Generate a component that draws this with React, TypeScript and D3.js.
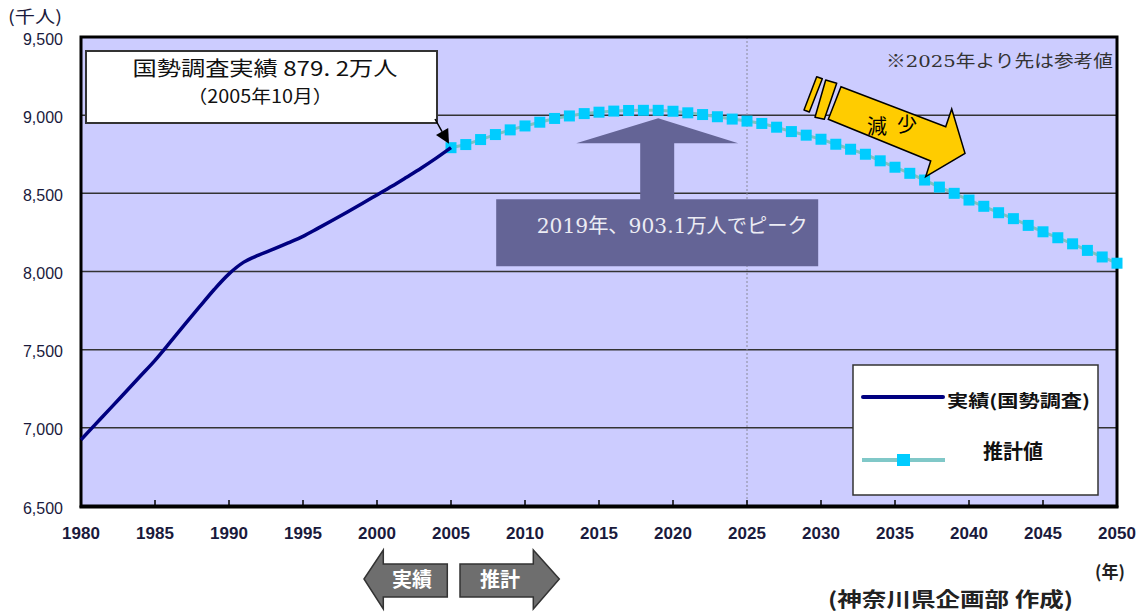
import React from "react";
import * as d3 from "d3";

// ---- data ----
const actualYears = [1980,1981,1982,1983,1984,1985,1986,1987,1988,1989,1990,1991,1992,1993,1994,1995,1996,1997,1998,1999,2000,2001,2002,2003,2004,2005];
const actualValues = [6924,7025,7126,7228,7330,7432,7545,7660,7773,7885,7985,8060,8105,8143,8183,8225,8276,8328,8381,8435,8490,8545,8603,8662,8725,8792];

const projYears = [2005,2006,2007,2008,2009,2010,2011,2012,2013,2014,2015,2016,2017,2018,2019,2020,2021,2022,2023,2024,2025,2026,2027,2028,2029,2030,2031,2032,2033,2034,2035,2036,2037,2038,2039,2040,2041,2042,2043,2044,2045,2046,2047,2048,2049,2050];
const projValues = [8792,8812,8844,8876,8906,8931,8955,8979,8995,9010,9019,9026,9030,9031,9031,9025,9015,9004,8990,8975,8962,8947,8923,8895,8872,8846,8814,8782,8750,8708,8667,8628,8585,8540,8500,8457,8417,8376,8338,8295,8254,8216,8177,8135,8093,8053];

const yTicks = [6500,7000,7500,8000,8500,9000,9500];
const xTicks = [1980,1985,1990,1995,2000,2005,2010,2015,2020,2025,2030,2035,2040,2045,2050];
const peakYear = 2019;
const peakValue = 9031;
const referenceYear = 2025;

const SANS = "'Liberation Sans', Arial, 'Noto Sans CJK JP', sans-serif";
const CJK = "'Noto Sans CJK JP', 'Noto Sans', sans-serif";
const SERIF = "'DejaVu Serif', 'Liberation Serif', 'Noto Sans CJK JP', serif";

export default function App() {
  const W = 1147, H = 612;
  const x = d3.scaleLinear().domain([1980, 2050]).range([81, 1117]);
  const y = d3.scaleLinear().domain([6500, 9500]).range([506, 37]);

  const actual = actualYears.map((yr, i) => [yr, actualValues[i]] as [number, number]);
  const proj = projYears.map((yr, i) => [yr, projValues[i]] as [number, number]);

  const lineGen = d3.line<[number, number]>()
    .x(d => x(d[0]))
    .y(d => y(d[1]))
    .curve(d3.curveMonotoneX);
  const projLine = d3.line<[number, number]>()
    .x(d => x(d[0]))
    .y(d => y(d[1]));

  const x0 = x.range()[0], x1 = x.range()[1];
  const yTop = y.range()[1], yBot = y.range()[0];

  // peak arrow geometry relative to peak point
  const tx = x(peakYear);
  const ty = y(peakValue) + 8;
  const peakArrow = [
    [tx, ty], [tx + 80, ty + 25], [tx + 16, ty + 25], [tx + 16, ty + 81],
    [tx + 160, ty + 81], [tx + 160, ty + 148], [tx - 162, ty + 148], [tx - 162, ty + 81],
    [tx - 18, ty + 81], [tx - 18, ty + 25], [tx - 82, ty + 25],
  ].map(p => p.join(",")).join(" ");

  // annotation arrow head
  const a0 = [435, 119], a1 = [x(2005) - 2, y(8792) - 4];
  const dx = a1[0] - a0[0], dy = a1[1] - a0[1];
  const len = Math.hypot(dx, dy);
  const ux = dx / len, uy = dy / len;
  const bx = a1[0] - 14 * ux, by = a1[1] - 14 * uy;
  const head = [[a1[0], a1[1]], [bx - 7 * uy, by + 7 * ux], [bx + 7 * uy, by - 7 * ux]]
    .map(p => p.join(",")).join(" ");

  const labelColor = "#1a1a3c";

  return (
    <svg width={W} height={H} style={{ position: "absolute", left: 0, top: 0, background: "#fff" }}>
      {/* plot background */}
      <rect x={x0} y={yTop} width={x1 - x0} height={yBot - yTop} fill="#CCCCFF" />
      {/* gridlines */}
      {yTicks.slice(1, -1).map(t => (
        <line key={t} x1={x0} x2={x1} y1={y(t)} y2={y(t)} stroke="#333" strokeWidth={1.5} />
      ))}
      {/* 2025 dotted line */}
      <line x1={x(referenceYear)} x2={x(referenceYear)} y1={yTop} y2={yBot} stroke="#8a8a9a" strokeWidth={1} strokeDasharray="2,2" />

      {/* ticks */}
      {xTicks.slice(1, -1).map(t => (
        <line key={t} x1={x(t)} x2={x(t)} y1={yBot} y2={yBot - 6} stroke="#000" strokeWidth={1.5} />
      ))}

      {/* plot border */}
      <rect x={x0} y={yTop} width={x1 - x0} height={yBot - yTop} fill="none" stroke="#000" strokeWidth={3} />
      <line x1={x0 - 1.5} x2={x1 + 1.5} y1={yBot + 1} y2={yBot + 1} stroke="#000" strokeWidth={3} />

      {/* peak arrow */}
      <polygon points={peakArrow} fill="#646496" />
      <text x={tx + 14} y={ty + 115} textAnchor="middle" fontFamily={SERIF} fontSize={20} fill="#ececf4"
        textLength={271} lengthAdjust="spacingAndGlyphs">2019年、903.1万人でピーク</text>

      {/* projection series */}
      <path d={projLine(proj) || ""} fill="none" stroke="#80C0C0" strokeWidth={3} />
      {proj.map(d => (
        <rect key={d[0]} x={x(d[0]) - 5.5} y={y(d[1]) - 5.5} width={11} height={11} fill="#00CCFF" />
      ))}

      {/* actual series */}
      <path d={lineGen(actual) || ""} fill="none" stroke="#000080" strokeWidth={3.5} strokeLinejoin="round" />

      {/* yellow decreasing arrow */}
      <polygon points="816.7,76.7 822.3,78.7 809.3,112 804,110" fill="#FFCC00" stroke="#000" strokeWidth={1.5} strokeLinejoin="round" />
      <polygon points="825.7,80 836.7,83.3 824.3,119.3 815,117.3" fill="#FFCC00" stroke="#000" strokeWidth={1.5} strokeLinejoin="round" />
      <polygon points="841,86.7 945.7,126.7 951.7,109 965,153.3 925.7,176.7 930.7,161 828.3,119.3" fill="#FFCC00" stroke="#000" strokeWidth={1.5} strokeLinejoin="miter" />
      <text x={877} y={127} dy="0.35em" textAnchor="middle" fontFamily={CJK} fontSize={20} fill="#000">減</text>
      <text x={907} y={125} dy="0.35em" textAnchor="middle" fontFamily={CJK} fontSize={20} fill="#000">少</text>

      {/* note */}
      <text x={886} y={67} fontFamily={SERIF} fontSize={17} fill="#333" textLength={227} lengthAdjust="spacingAndGlyphs">※2025年より先は参考値</text>

      {/* annotation box */}
      <rect x={86} y={51} width={351} height={72} fill="#fff" stroke="#333" strokeWidth={2} />
      <text x={265} y={76} textAnchor="middle" fontFamily={CJK} fontSize={20} fill="#111" textLength={265} lengthAdjust="spacingAndGlyphs">国勢調査実績 879. 2万人</text>
      <text x={260} y={103} textAnchor="middle" fontFamily={CJK} fontSize={18} fill="#111" textLength={145} lengthAdjust="spacingAndGlyphs">（2005年10月）</text>
      <line x1={a0[0]} y1={a0[1]} x2={bx} y2={by} stroke="#000" strokeWidth={1.5} />
      <polygon points={head} fill="#000" />

      {/* legend */}
      <rect x={853} y={365} width={245} height={130} fill="#fff" stroke="#333" strokeWidth={1.5} />
      <line x1={863} x2={943} y1={397} y2={397} stroke="#000080" strokeWidth={4} strokeLinecap="round" />
      <text x={947} y={407} fontFamily={CJK} fontSize={17} fontWeight={700} fill="#111" textLength={143} lengthAdjust="spacingAndGlyphs">実績(国勢調査)</text>
      <line x1={862} x2={945} y1={460} y2={460} stroke="#80C8C8" strokeWidth={4} />
      <rect x={897} y={454} width={13} height={12} fill="#00CCFF" />
      <text x={983} y={459} fontFamily={CJK} fontSize={20} fontWeight={700} fill="#111" textLength={60} lengthAdjust="spacingAndGlyphs">推計値</text>

      {/* y axis labels */}
      <text x={62} y={23} textAnchor="end" fontFamily={CJK} fontSize={17} fill={labelColor} textLength={54} lengthAdjust="spacingAndGlyphs">(千人)</text>
      {yTicks.map(t => (
        <text key={t} x={63} y={y(t) + 2} dy="0.35em" textAnchor="end" fontFamily={SANS} fontSize={16} fill={labelColor}>
          {d3.format(",")(t)}
        </text>
      ))}

      {/* x axis labels */}
      {xTicks.map(t => (
        <text key={t} x={x(t)} y={539} textAnchor="middle" fontFamily={SANS} fontSize={17} fontWeight={700} fill={labelColor}>
          {t}
        </text>
      ))}
      <text x={1110} y={578} textAnchor="middle" fontFamily={CJK} fontSize={17} fontWeight={700} fill="#222">(年)</text>
      <text x={828} y={607} fontFamily={CJK} fontSize={20} fontWeight={700} fill="#222" textLength={245} lengthAdjust="spacingAndGlyphs">(神奈川県企画部 作成)</text>

      {/* bottom arrows */}
      <polygon points="364,579 383.3,550 383.3,564 447.3,564 447.3,597 383.3,597 383.3,609" fill="#6e6e6e" stroke="#333" strokeWidth={1.5} />
      <polygon points="460,564 533.3,564 533.3,550 559.3,579 533.3,609 533.3,597 460,597" fill="#6e6e6e" stroke="#333" strokeWidth={1.5} />
      <text x={412} y={587} textAnchor="middle" fontFamily={CJK} fontSize={20} fontWeight={700} fill="#fff">実績</text>
      <text x={500} y={587} textAnchor="middle" fontFamily={CJK} fontSize={20} fontWeight={700} fill="#fff">推計</text>
    </svg>
  );
}
